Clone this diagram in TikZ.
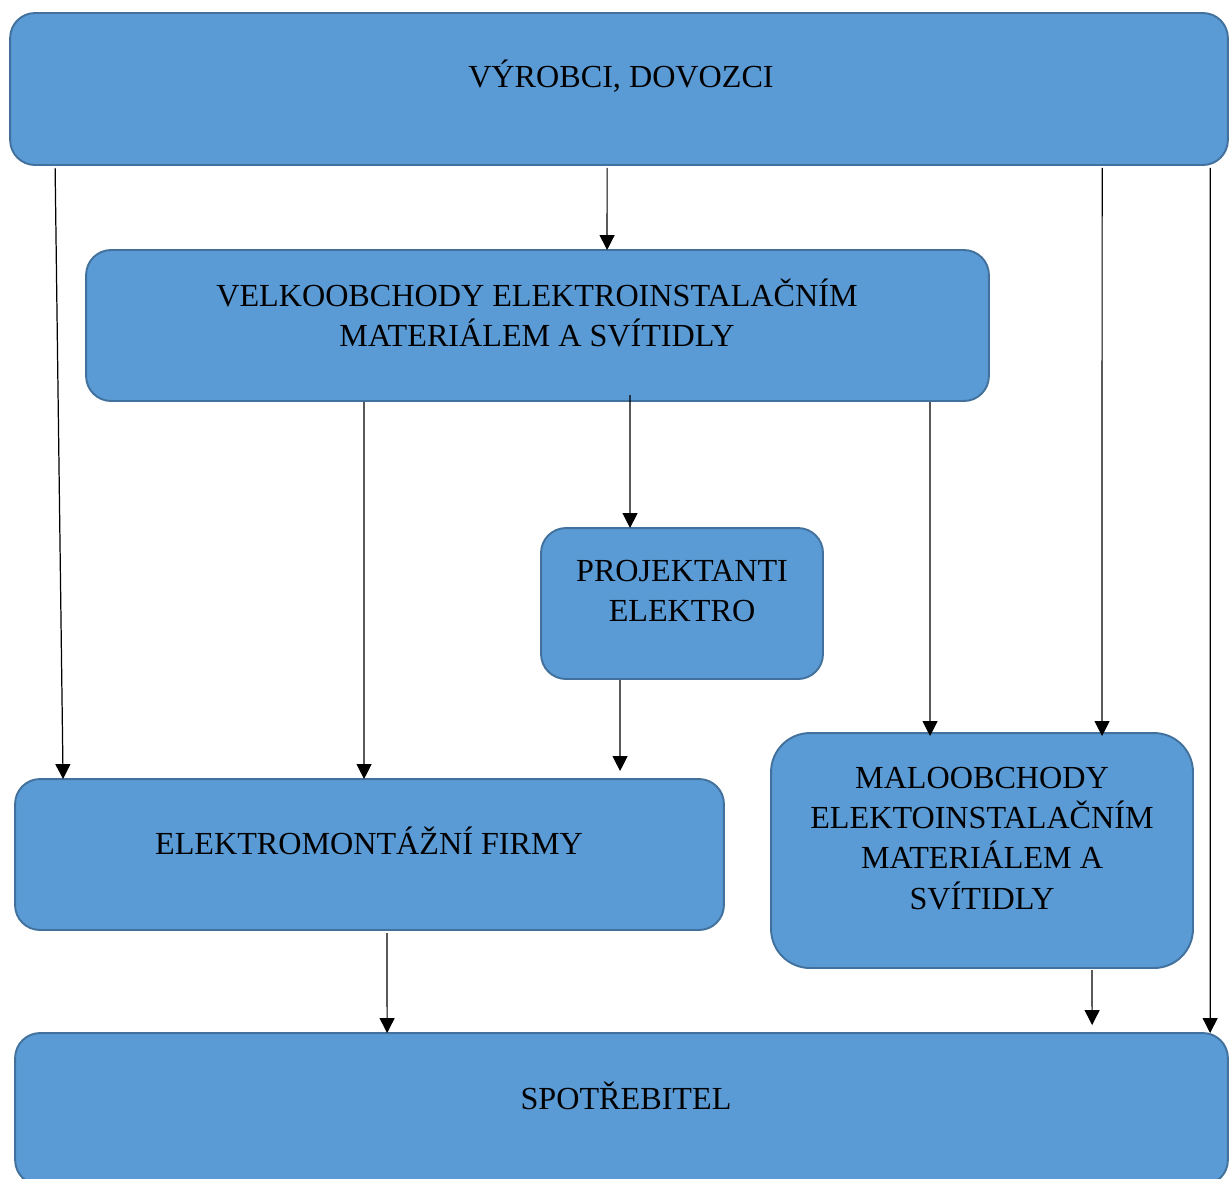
\documentclass[tikz,border=0pt]{standalone}
\usepackage{fontspec}
\setmainfont{Liberation Serif}
\usetikzlibrary{arrows.meta}
\definecolor{boxfill}{HTML}{5B9BD5}
\definecolor{boxline}{HTML}{41719C}
\tikzset{
  every picture/.style={line join=round, >=Stealth},
  box/.style={draw=boxline, fill=boxfill, line width=1.1pt, rounded corners=0.5cm, outer sep=0pt, inner sep=0pt},
  txt/.style={align=center, font=\fontsize{18.3}{22.8}\selectfont, inner sep=0pt},
  arr/.style={-{Triangle[width=8.5pt,length=8.5pt]}, line width=0.7pt},
}
\begin{document}
\begin{tikzpicture}[x=0.02cm,y=-0.02cm]
\clip (0,0) rectangle (1229,1178);
% boxes
\node[box, minimum width=24.36cm, minimum height=3.04cm] (vyr) at (619,89) {};
\node[box, minimum width=18.06cm, minimum height=3.02cm] (velk) at (537.5,325.5) {};
\node[box, minimum width=5.64cm, minimum height=3.02cm] (proj) at (682,603.5) {};
\node[box, minimum width=14.18cm, minimum height=3.02cm] (emf) at (369.5,854.5) {};
\node[box, minimum width=8.44cm, minimum height=4.7cm, rounded corners=0.78cm] (malo) at (982,850.5) {};
\node[box, minimum width=24.26cm, minimum height=3.04cm] (spot) at (621.5,1109) {};
% texts
\node[txt] (vyrT) at (621,76) {VÝROBCI, DOVOZCI};
\node[txt] (velkT) at (537,313) {VELKOOBCHODY ELEKTROINSTALAČNÍM\\MATERIÁLEM A SVÍTIDLY};
\node[txt] (projT) at (682,591) {PROJEKTANTI\\ELEKTRO};
\node[txt] (emfT) at (369,841) {ELEKTROMONTÁŽNÍ FIRMY};
\node[txt] (maloT) at (982,838.5) {MALOOBCHODY\\ELEKTOINSTALAČNÍM\\MATERIÁLEM A\\SVÍTIDLY};
\node[txt] (spotT) at (626,1096) {SPOTŘEBITEL};
% arrows
\draw[arr] ([shift={(45,3)}]vyr.south west) -- ([shift={(48,0)}]emf.north west);
\draw[arr] ([shift={(597,3)}]vyr.south west) -- ([shift={(521,0)}]velk.north west);
\draw[arr] ([shift={(1092,3)}]vyr.south west) -- ([shift={(331,3)}]malo.north west);
\draw[arr] ([shift={(1200,3)}]vyr.south west) -- ([shift={(1195,0)}]spot.north west);
\draw[arr] ([shift={(278,1)}]velk.south west) -- ([shift={(349,0)}]emf.north west);
\draw[arr] ([shift={(544,-6)}]velk.south west) -- ([shift={(89,0)}]proj.north west);
\draw[arr] ([shift={(844,1)}]velk.south west) -- ([shift={(159,3)}]malo.north west);
\draw[arr] ([shift={(79,1)}]proj.south west) -- ([shift={(605,-8)}]emf.north west);
\draw[arr] ([shift={(372,3)}]emf.south west) -- ([shift={(372,0)}]spot.north west);
\draw[arr] ([shift={(321,2)}]malo.south west) -- ([shift={(1077,-8)}]spot.north west);
\end{tikzpicture}
\end{document}
